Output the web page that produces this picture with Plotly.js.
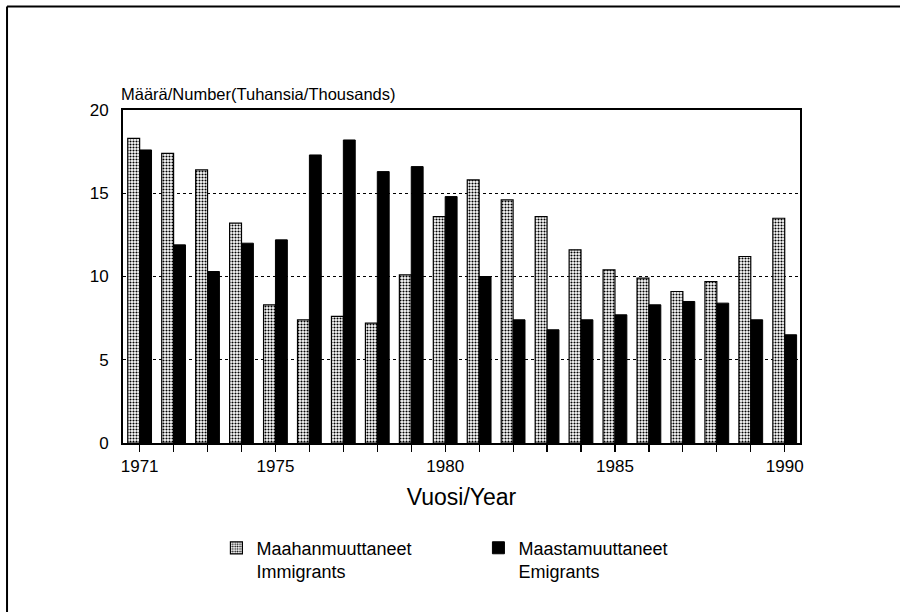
<!DOCTYPE html>
<html>
<head>
<meta charset="utf-8">
<script src="https://cdn.plot.ly/plotly-3.0.1.min.js"></script>
<style>html,body{margin:0;padding:0;background:#fff;}#chart{width:900px;height:612px;}</style>
</head>
<body>
<div id="chart"></div>
<script>
const years = [1971,1972,1973,1974,1975,1976,1977,1978,1979,1980,1981,1982,1983,1984,1985,1986,1987,1988,1989,1990];
const immigrants = [18.3,17.4,16.4,13.2,8.3,7.4,7.6,7.2,10.1,13.6,15.8,14.6,13.6,11.6,10.4,9.9,9.1,9.7,11.2,13.5];
const emigrants = [17.6,11.9,10.3,12.0,12.2,17.3,18.2,16.3,16.6,14.8,10.0,7.4,6.8,7.4,7.7,8.3,8.5,8.4,7.4,6.5];
const labeledYears = [1971,1975,1980,1985,1990];
const tickText = years.map(y => labeledYears.includes(y) ? String(y) : '');
const yTicks = [0,5,10,15,20];
const immName = 'Maahanmuuttaneet<br>Immigrants';
const emiName = 'Maastamuuttaneet<br>Emigrants';
const yTitle = 'Määrä/Number(Tuhansia/Thousands)';
const xTitle = 'Vuosi/Year';

const baseFont = 'Liberation Sans, Arial, Helvetica, sans-serif';

const traces = [
  {
    type: 'bar', x: years, y: immigrants, name: immName,
    marker: {
      color: '#ffffff',
      line: {color: '#000', width: 1.2},
      pattern: {shape: '.', fgcolor: '#000', bgcolor: '#fff', size: 3, solidity: 0.4}
    }
  },
  {
    type: 'bar', x: years, y: emigrants, name: emiName,
    marker: {color: '#000', line: {color: '#000', width: 1}}
  }
];

const layout = {
  width: 900, height: 612,
  margin: {l: 123, r: 100, t: 110, b: 169},
  paper_bgcolor: '#fff', plot_bgcolor: '#fff',
  font: {family: baseFont, color: '#000', size: 16},
  barmode: 'group', bargap: 0.30, bargroupgap: 0,
  showlegend: true,
  legend: {
    orientation: 'h', x: 0.138, y: -0.26, xanchor: 'left', yanchor: 'top',
    font: {family: baseFont, size: 18, color: '#000'},
    valign: 'top', entrywidth: 217, entrywidthmode: 'pixels',
    bgcolor: 'rgba(0,0,0,0)', traceorder: 'normal'
  },
  xaxis: {
    range: [1970.51, 1990.45],
    tickmode: 'array', tickvals: years, ticktext: tickText,
    ticks: 'outside', ticklen: 7, tickwidth: 1.2, tickcolor: '#000',
    showline: true, linecolor: '#000', linewidth: 2, mirror: true,
    showgrid: false, zeroline: false,
    tickfont: {family: baseFont, size: 17, color: '#000'},
    title: {text: xTitle, font: {family: baseFont, size: 23, color: '#000'}, standoff: 13}
  },
  yaxis: {
    range: [0, 20],
    tickmode: 'array', tickvals: yTicks, ticktext: yTicks.map(String),
    ticks: 'outside', ticklen: 9, tickcolor: 'rgba(0,0,0,0)',
    showline: true, linecolor: '#000', linewidth: 2, mirror: true,
    showgrid: true, gridcolor: '#000', gridwidth: 1, griddash: 'dot',
    zeroline: false,
    tickfont: {family: baseFont, size: 17, color: '#000'}
  },
  annotations: [
    {
      xref: 'paper', yref: 'paper', x: 0, y: 1, xanchor: 'left', yanchor: 'bottom',
      xshift: -4, yshift: 5, showarrow: false, text: yTitle,
      font: {family: baseFont, size: 16.5, color: '#000'}
    }
  ],
  shapes: [
    {type: 'line', xref: 'paper', yref: 'paper', x0: -0.1713, x1: -0.1713, y0: -0.6, y1: 1.3108, line: {color: '#000', width: 2}},
    {type: 'line', xref: 'paper', yref: 'paper', x0: -0.1713, x1: 1.3, y0: 1.3108, y1: 1.3108, line: {color: '#000', width: 2}}
  ]
};

Plotly.newPlot('chart', traces, layout, {displayModeBar: false, staticPlot: true});
</script>
</body>
</html>
